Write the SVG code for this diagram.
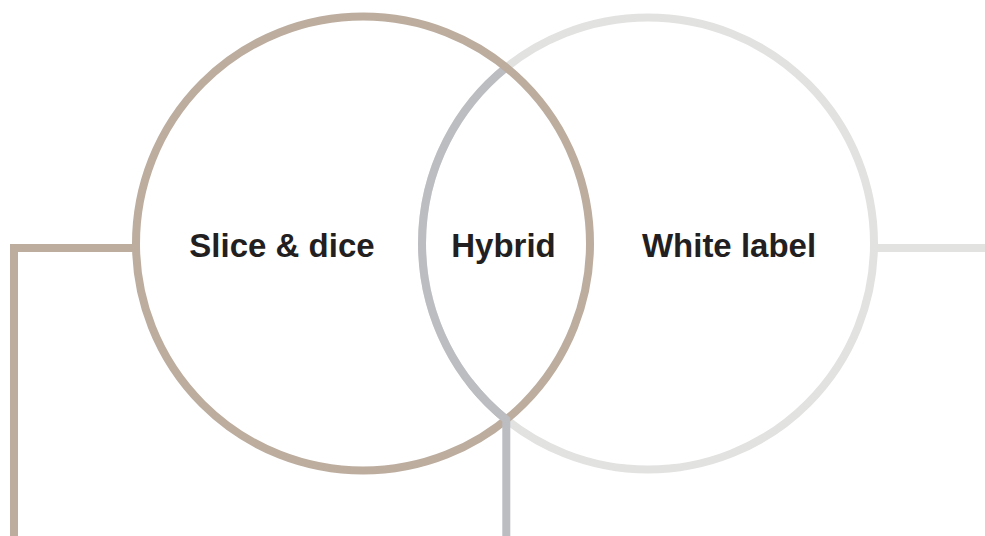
<svg xmlns="http://www.w3.org/2000/svg" width="985" height="536" viewBox="0 0 985 536">
<style>
.lbl{font-family:"Liberation Sans",Arial,sans-serif;font-weight:bold;font-size:33px;fill:#231f20;text-anchor:middle}
.s{fill:none;stroke-width:8}
.brown{stroke:#bcad9f}
.grey{stroke:#bcbdc1}
.light{stroke:#e2e3e1}
</style>
<rect width="985" height="536" fill="#fff"/>
<g id="connectors">
<polyline class="s brown" points="136,248 14,248 14,536"/>
<line class="s light" x1="874" y1="248" x2="985" y2="248"/>
</g>
<g id="white-label">
<circle class="s light" cx="648" cy="243.5" r="226"/>
<path class="s grey" d="M506.3,67.45 A226,226 0 0 0 506.3,419.55"/>
<text class="lbl" x="729" y="257">White label</text>
</g>
<g id="slice-dice">
<circle class="s brown" cx="363" cy="243.5" r="227"/>
<text class="lbl" x="282" y="257">Slice &amp; dice</text>
</g>
<g id="hybrid">
<path class="s grey" d="M469.4,382 A226,226 0 0 0 506.3,419.55 L506.3,536"/>
<text class="lbl" x="503.5" y="257">Hybrid</text>
</g>
</svg>
